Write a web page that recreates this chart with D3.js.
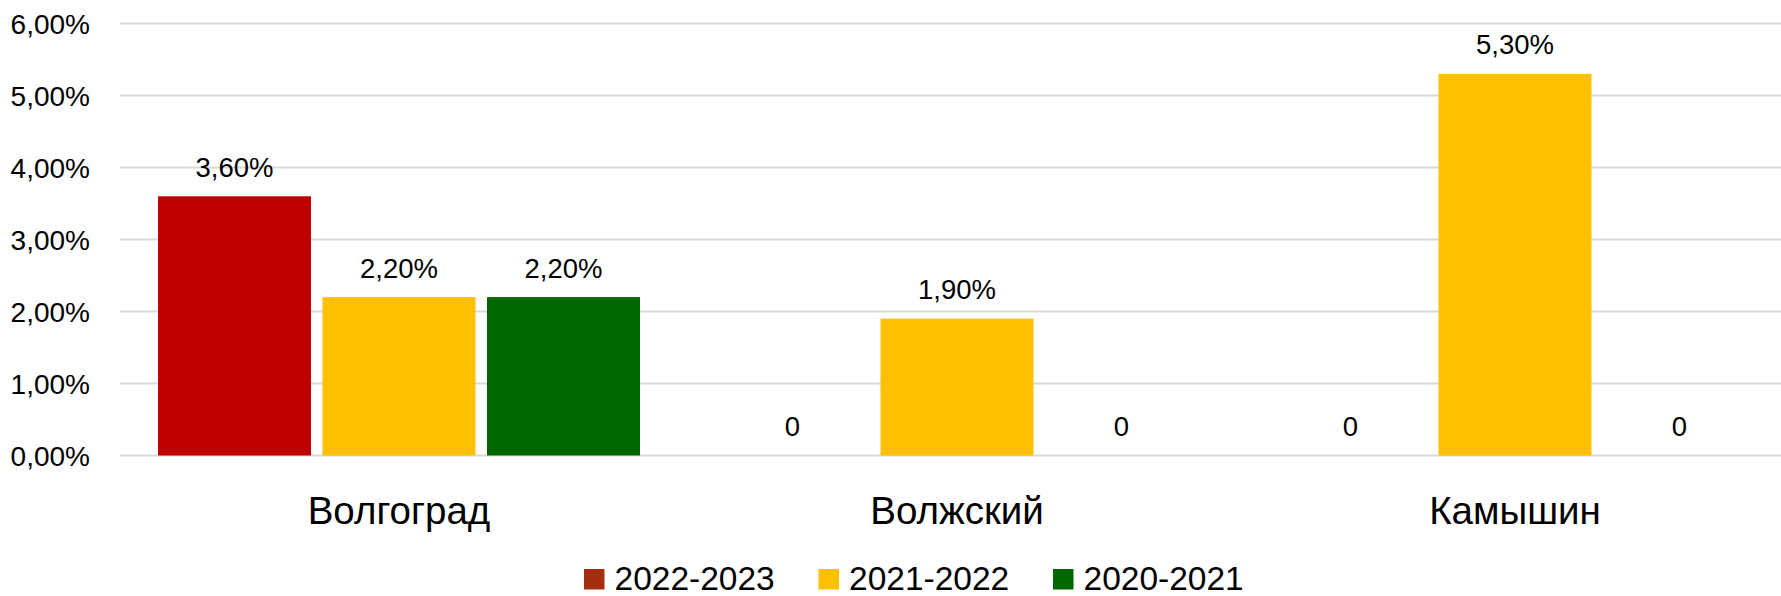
<!DOCTYPE html>
<html>
<head>
<meta charset="utf-8">
<script src="https://cdn.jsdelivr.net/npm/d3@7"></script>
<style>
  html, body { margin: 0; padding: 0; background: #fff; }
  svg { display: block; }
  text { font-family: "Liberation Sans", Arial, sans-serif; fill: #000; }
</style>
</head>
<body>
<svg id="chart" width="1781" height="596"></svg>
<script>
// ---- data ----
const categories = ["Волгоград", "Волжский", "Камышин"];
const seriesNames = ["2022-2023", "2021-2022", "2020-2021"];
const values2022_2023 = [0.036, 0, 0];
const values2021_2022 = [0.022, 0.019, 0.053];
const values2020_2021 = [0.022, 0, 0];
const barColors = ["#C00000", "#FFC000", "#006600"];
const legendColors = ["#A62E10", "#FFC000", "#006600"];
const yTicks = [0, 0.01, 0.02, 0.03, 0.04, 0.05, 0.06];

const seriesValues = [values2022_2023, values2021_2022, values2020_2021];

// ---- layout ----
const W = 1781, H = 596;
const plotLeft = 120, plotRight = 1794, plotTop = 23.5, plotBottom = 455.5;

const locale = d3.formatLocale({decimal: ",", thousands: " ", grouping: [3], currency: ["", ""]});
const pct = locale.format(".2%");

const svg = d3.select("#chart");

const x0 = d3.scaleBand().domain(categories).range([plotLeft, plotRight]).paddingInner(0).paddingOuter(0);
const x1 = d3.scaleBand().domain(seriesNames).range([0, x0.bandwidth()]).paddingInner(0.07).paddingOuter(0.231);
const y = d3.scaleLinear().domain([0, 0.06]).range([plotBottom, plotTop]);

// gridlines
svg.append("g")
  .selectAll("line")
  .data(yTicks)
  .join("line")
  .attr("x1", plotLeft).attr("x2", plotRight)
  .attr("y1", d => y(d)).attr("y2", d => y(d))
  .attr("stroke", "#D9D9D9").attr("stroke-width", 2);

// y axis labels
const yAxis = d3.axisLeft(y).tickValues(yTicks).tickFormat(d => pct(d)).tickSize(0).tickPadding(0);
const gy = svg.append("g").attr("transform", `translate(90,0)`).call(yAxis);
gy.select(".domain").remove();
gy.selectAll("text")
  .attr("font-size", 28)
  .attr("font-family", "Liberation Sans, Arial, sans-serif")
  .attr("fill", "#000")
  .attr("dy", "0.35em");

// data rows
const rows = [];
categories.forEach((c, ci) => {
  seriesNames.forEach((s, si) => {
    rows.push({cat: c, series: s, si: si, value: seriesValues[si][ci]});
  });
});

const groups = svg.append("g");
groups.selectAll("rect")
  .data(rows.filter(d => d.value > 0))
  .join("rect")
  .attr("x", d => x0(d.cat) + x1(d.series))
  .attr("width", x1.bandwidth())
  .attr("y", d => y(d.value))
  .attr("height", d => y(0) - y(d.value))
  .attr("fill", d => barColors[d.si]);

// value labels
groups.selectAll("text.val")
  .data(rows)
  .join("text")
  .attr("class", "val")
  .attr("x", d => x0(d.cat) + x1(d.series) + x1.bandwidth() / 2)
  .attr("y", d => y(d.value) - 19.5)
  .attr("text-anchor", "middle")
  .attr("font-size", 27.5)
  .text(d => d.value === 0 ? "0" : pct(d.value));

// x axis category labels
const xAxis = d3.axisBottom(x0).tickSize(0).tickPadding(0);
const gx = svg.append("g").attr("transform", `translate(0,${plotBottom})`).call(xAxis);
gx.select(".domain").remove();
gx.selectAll("text")
  .attr("font-size", 38.5)
  .attr("font-family", "Liberation Sans, Arial, sans-serif")
  .attr("fill", "#000")
  .attr("dy", 0)
  .attr("y", 68.5);

// legend
const legendX = [584, 818.5, 1053];
const legend = svg.append("g");
const items = legend.selectAll("g")
  .data(seriesNames)
  .join("g")
  .attr("transform", (d, i) => `translate(${legendX[i]},569)`);
items.append("rect")
  .attr("width", 20.5).attr("height", 20.5)
  .attr("fill", (d, i) => legendColors[i]);
items.append("text")
  .attr("x", 30.5).attr("y", 20.5)
  .attr("font-size", 33.5)
  .text(d => d);
</script>
</body>
</html>
